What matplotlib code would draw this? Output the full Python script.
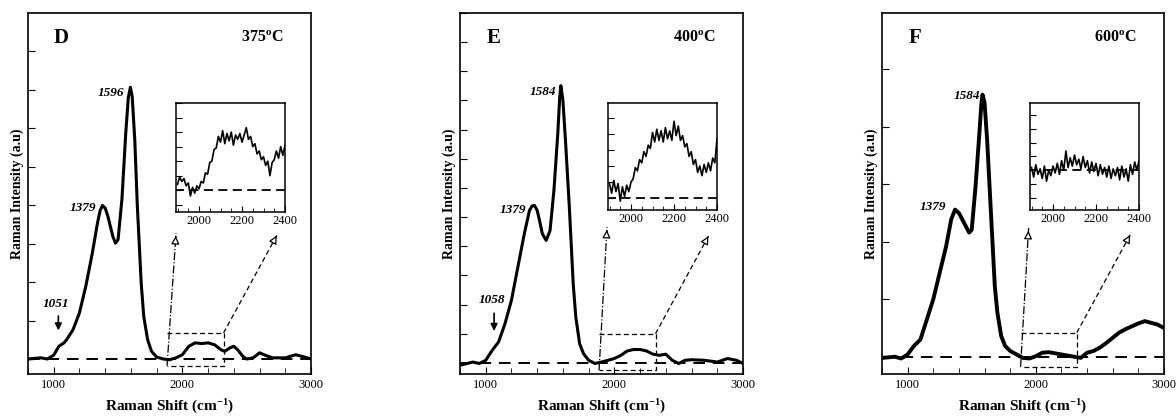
import matplotlib
matplotlib.use('Agg')
import matplotlib.pyplot as plt
from matplotlib.ticker import MultipleLocator

plt.rcParams['font.family'] = 'Liberation Serif'
plt.rcParams['mathtext.fontset'] = 'custom'
plt.rcParams['mathtext.rm'] = 'Liberation Serif'
plt.rcParams['mathtext.it'] = 'Liberation Serif:italic'
plt.rcParams['mathtext.bf'] = 'Liberation Serif:bold'

# ---- data (y in units of one y-tick step, baseline = 0) ----
shift_d = [800, 900, 950, 1000, 1040, 1080, 1100, 1150, 1200, 1250, 1300, 1340, 1360, 1379,
           1400, 1420, 1440, 1460, 1480, 1500, 1530, 1560, 1580, 1596, 1610, 1630, 1650, 1680,
           1700, 1730, 1760, 1800, 1850, 1900, 1950, 2000, 2050, 2100, 2150, 2200, 2250, 2300,
           2330, 2370, 2400, 2430, 2470, 2500, 2550, 2600, 2650, 2700, 2800, 2880, 2950, 3000]
int_d = [0, 0.03, 0, 0.1, 0.33, 0.42, 0.5, 0.76, 1.2, 1.9, 2.75, 3.53, 3.85, 3.99,
         3.92, 3.72, 3.45, 3.18, 3.01, 3.1, 4.14, 5.87, 6.8, 7.06, 6.82, 5.7, 3.97, 1.97,
         1.1, 0.5, 0.2, 0.05, 0, -0.02, 0.03, 0.11, 0.33, 0.42, 0.4, 0.42, 0.37, 0.24,
         0.2, 0.29, 0.33, 0.24, 0.07, 0, 0.03, 0.16, 0.09, 0.03, 0.03, 0.11, 0.05, 0]

shift_e = [800, 900, 950, 1000, 1050, 1100, 1150, 1200, 1250, 1300, 1340, 1360, 1379, 1400,
           1420, 1440, 1470, 1500, 1530, 1560, 1575, 1584, 1600, 1620, 1650, 1680, 1700, 1730,
           1760, 1800, 1850, 1900, 1950, 2000, 2050, 2100, 2150, 2200, 2250, 2300, 2350, 2400,
           2450, 2500, 2550, 2600, 2700, 2800, 2880, 2950, 3000]
int_e = [-0.08, 0.03, -0.02, 0.09, 0.43, 0.72, 1.35, 2.15, 3.29, 4.43, 5.23, 5.38, 5.4, 5.23,
         4.85, 4.43, 4.2, 4.54, 5.91, 7.85, 9.1, 9.51, 9.0, 7.63, 5.34, 2.72, 1.58, 0.66,
         0.32, 0.09, -0.02, 0.03, 0.09, 0.15, 0.26, 0.41, 0.46, 0.46, 0.41, 0.3, 0.26, 0.3,
         0.09, -0.02, 0.09, 0.11, 0.09, 0.03, 0.15, 0.09, -0.02]

shift_f = [800, 900, 950, 1000, 1050, 1100, 1150, 1200, 1250, 1300, 1340, 1370, 1400, 1440,
           1480, 1500, 1530, 1560, 1575, 1584, 1600, 1620, 1650, 1680, 1700, 1730, 1760, 1800,
           1850, 1900, 1950, 2000, 2050, 2100, 2150, 2200, 2250, 2300, 2350, 2400, 2450, 2500,
           2550, 2600, 2650, 2700, 2750, 2800, 2850, 2900, 2950, 3000]
int_f = [-0.02, 0, -0.03, 0.04, 0.19, 0.3, 0.65, 1.0, 1.46, 1.92, 2.39, 2.56, 2.5, 2.33,
         2.16, 2.21, 2.97, 3.9, 4.4, 4.56, 4.42, 3.78, 2.5, 1.23, 0.77, 0.36, 0.19, 0.1,
         0.04, -0.02, -0.03, 0.01, 0.07, 0.08, 0.06, 0.04, 0.02, 0, -0.02, 0.07, 0.1, 0.16,
         0.24, 0.33, 0.42, 0.48, 0.53, 0.58, 0.62, 0.59, 0.56, 0.5]

# zoomed 1900-2400 region (insets), every 10 cm-1
inset_shift = list(range(1900, 2410, 10))
inset_d = [0.4, 0.9, 0.6, 0.8, 0.3, 0.5, -0.4, 0.2, -0.2, 0.3, 0.1, 0.6, 0.5, 1.2, 1.1, 1.9,
           2.0, 2.8, 2.9, 3.7, 3.3, 4.1, 3.2, 3.9, 3.4, 4.0, 3.1, 3.8, 3.5, 3.9, 3.3, 3.8,
           4.3, 3.5, 3.7, 3.0, 3.2, 2.5, 2.7, 2.1, 2.3, 1.7, 2.0, 1.0, 1.9, 2.1, 2.7, 2.2,
           3.0, 2.4, 3.1]
inset_e = [0.9, 0.3, 1.1, 0.4, 0.9, -0.2, 0.7, 0.1, 0.8, 0.4, 1.0, 1.2, 1.9, 1.7, 2.4, 2.2,
           2.9, 2.6, 3.3, 3.1, 4.1, 3.5, 4.3, 3.6, 4.2, 3.5, 4.4, 3.7, 4.2, 3.6, 4.8, 3.9,
           4.5, 3.6, 3.9, 3.2, 3.4, 2.6, 2.9, 2.1, 2.4, 1.6, 2.0, 1.4, 2.1, 1.6, 2.2, 1.7,
           2.5, 2.2, 3.7]
inset_f = [0.2, -0.5, 0.4, -0.3, 0.1, -0.6, 0.3, -0.8, 0.0, -0.4, 0.3, -0.2, 0.5, -0.3, 0.7,
           0.0, 1.4, 0.2, 0.9, 0.3, 1.1, 0.4, 0.8, 0.1, 1.0, 0.2, 0.7, -0.2, 0.6, -0.1, 0.5,
           -0.4, 0.4, -0.3, 0.2, -0.5, 0.3, -0.6, 0.1, -0.4, 0.2, -0.7, 0.3, -0.5, 0.1, -0.8,
           0.4, -0.3, 0.6, 0.0, 0.7]

letters = ['D', 'E', 'F']
temps = ['375', '400', '600']
peak_labels = [[('1596', 1551, 6.9), ('1379', 1332, 3.92)],
               [('1584', 1549, 9.3), ('1379', 1316, 5.25)],
               [('1584', 1564, 4.53), ('1379', 1300, 2.6)]]
shoulders = [('1051', 1036, 1.43, 1.19, 0.67), ('1058', 1065, 2.15, 1.8, 1.0), None]

W, H = 1176, 418
fig = plt.figure(figsize=(W / 100, H / 100), dpi=100)


def px_axes(x0, y0, x1, y1):
    return fig.add_axes([x0 / W, 1 - y1 / H, (x1 - x0) / W, (y1 - y0) / H])


main_boxes = [(28, 13, 311, 374), (460, 13, 743, 374), (882, 13, 1164, 374)]
inset_boxes = [(176, 103, 285, 212), (608, 103, 717, 210), (1030, 103, 1139, 210)]
main_ylims = [(-0.39, 8.99), (-0.38, 12.0), (-0.3, 5.98)]
inset_ylims = [(-1.5, 6.0), (-0.75, 5.94), (-2.9, 4.9)]
rects = [(-0.18, 0.675), (-0.25, 1.0), (-0.18, 0.42)]
tips = [((1951, 3.27), (2744, 3.27)), ((1943, 4.66), (2741, 4.43)), ((1944, 2.24), (2746, 2.16))]
spectra = [(shift_d, int_d, 2.2), (shift_e, int_e, 2.2), (shift_f, int_f, 2.8)]
insets = [inset_d, inset_e, inset_f]

for i in range(3):
    ax = px_axes(*main_boxes[i])
    x, y, lw = spectra[i]
    ax.plot([800, 3000], [0, 0], color='black', lw=1.4, ls=(0, (6, 4)))
    ax.plot(x, y, color='black', lw=lw)
    ax.set_xlim(800, 3000)
    ax.set_ylim(*main_ylims[i])
    ax.xaxis.set_major_locator(MultipleLocator(1000))
    ax.xaxis.set_minor_locator(MultipleLocator(200))
    ax.yaxis.set_major_locator(MultipleLocator(1))
    ax.tick_params(which='both', direction='in', top=False, right=False, labelsize=9)
    ax.tick_params(which='major', length=5)
    ax.tick_params(which='minor', length=4)
    ax.tick_params(axis='y', labelleft=False)
    for s in ax.spines.values():
        s.set_linewidth(1.2)
    ax.set_xlabel('Raman Shift (cm$^{\\mathbf{-1}}$)', fontsize=11, fontweight='bold', labelpad=5)
    ax.set_ylabel('Raman Intensity (a.u)', fontsize=10, fontweight='bold', labelpad=3)

    ax.text(0.117, 0.93, letters[i], transform=ax.transAxes, fontsize=15,
            fontweight='bold', ha='center', va='center')
    ax.text(0.827, 0.93, temps[i] + '$^{\\mathbf{o}}$C', transform=ax.transAxes,
            fontsize=11.5, fontweight='bold', ha='center', va='center')
    for lab, lx, ly in peak_labels[i]:
        ax.text(lx, ly, lab, fontsize=9.5, fontweight='bold', style='italic',
                ha='right', va='center')
    if shoulders[i] is not None:
        lab, sx, ty, a0, a1 = shoulders[i]
        ax.text(sx - 15, ty, lab, fontsize=9.5, fontweight='bold', style='italic',
                ha='center', va='center')
        ax.annotate('', xy=(sx, a1), xytext=(sx, a0),
                    arrowprops=dict(arrowstyle='-|>', color='black', lw=1.2,
                                    mutation_scale=10))

    # dashed zoom box and arrows to the inset
    rb, rt = rects[i]
    ax.plot([1881, 2320, 2320, 1881], [rt, rt, rb, rb], color='black', lw=0.9, ls=(0, (4, 2.5)))
    (lx, ly), (rx, ry) = tips[i]
    ax.plot([1881, lx], [rb, ly], color='black', lw=0.9, ls='-.')
    ax.plot([2320, rx], [rt, ry], color='black', lw=0.9, ls=(0, (4, 2.5)))
    for (tx, ty), (sx0, sy0) in [((lx, ly), (1881, rb)), ((rx, ry), (2320, rt))]:
        ax.annotate('', xy=(tx, ty), xytext=(tx - (tx - sx0) * 0.05, ty - (ty - sy0) * 0.05),
                    arrowprops=dict(arrowstyle='-|>', fc='white', ec='black', lw=0.9,
                                    mutation_scale=12))

    # inset
    ia = px_axes(*inset_boxes[i])
    ia.plot([1890, 2400], [0, 0], color='black', lw=1.3, ls=(0, (5, 3)))
    ia.plot(inset_shift, insets[i], color='black', lw=1.2)
    ia.set_xlim(1893, 2400)
    ia.set_ylim(*inset_ylims[i])
    ia.xaxis.set_major_locator(MultipleLocator(200))
    ia.xaxis.set_minor_locator(MultipleLocator(50))
    ia.yaxis.set_major_locator(MultipleLocator(1))
    ia.tick_params(which='both', direction='in', top=False, right=False, labelsize=9, pad=2)
    ia.tick_params(which='major', length=4)
    ia.tick_params(which='minor', length=3)
    ia.tick_params(axis='y', labelleft=False)
    for s in ia.spines.values():
        s.set_linewidth(1.1)

fig.savefig('out.png', dpi=100)
